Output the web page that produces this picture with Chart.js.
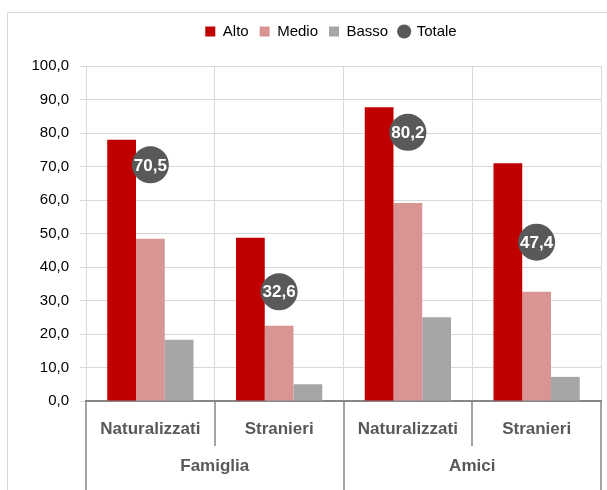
<!DOCTYPE html>
<html>
<head>
<meta charset="utf-8">
<script src="https://cdn.jsdelivr.net/npm/chart.js@4.4.0/dist/chart.umd.min.js"></script>
<style>
  html, body { margin: 0; padding: 0; background: #fff; overflow: hidden; }
  #wrap { position: relative; width: 607px; height: 490px; overflow: hidden; }
  #frame { position: absolute; left: 7px; top: 12px; width: 700px; height: 600px; border: 1px solid #d9d9d9; }
  canvas { position: absolute; left: 0; top: 0; }
</style>
</head>
<body>
<div id="wrap">
  <div id="frame"></div>
  <canvas id="chart" width="607" height="490"></canvas>
</div>
<script>
// data
const categories = ['Naturalizzati', 'Stranieri', 'Naturalizzati', 'Stranieri'];
const groups = ['Famiglia', 'Amici'];
const alto = [78.0, 48.7, 87.7, 71.0];
const medio = [48.4, 22.5, 59.1, 32.6];
const basso = [18.3, 5.0, 25.0, 7.2];
const totale = [70.5, 32.6, 80.2, 47.4];

const fmt = v => Number(v).toFixed(1).replace('.', ',');
Chart.defaults.font.family = '"Liberation Sans", Arial, sans-serif';

// second level of the x axis (Famiglia / Amici) with separators
const groupAxis = {
  id: 'groupAxis',
  afterDraw(chart) {
    const x = chart.scales.x;
    const ctx = chart.ctx;
    const n = categories.length;
    const per = n / groups.length;
    const edge = i => i === 0 ? x.left : i === n ? x.right : (x.getPixelForTick(i - 1) + x.getPixelForTick(i)) / 2;
    ctx.save();
    ctx.strokeStyle = '#868686';
    ctx.lineWidth = 1.5;
    for (let i = 0; i <= n; i++) {
      const px = Math.round(edge(i));
      const bottom = i % per === 0 ? chart.height : x.top + 45;
      ctx.beginPath();
      ctx.moveTo(px, x.top);
      ctx.lineTo(px, bottom);
      ctx.stroke();
    }
    ctx.font = 'bold 17px "Liberation Sans", Arial, sans-serif';
    ctx.fillStyle = '#595959';
    ctx.textAlign = 'center';
    ctx.textBaseline = 'middle';
    groups.forEach((g, k) => {
      const cx = (edge(k * per) + edge((k + 1) * per)) / 2;
      ctx.fillText(g, cx, x.top + 65);
    });
    ctx.restore();
  }
};

// value labels inside the Totale circles
const totaleLabels = {
  id: 'totaleLabels',
  afterDatasetsDraw(chart) {
    const ctx = chart.ctx;
    const meta = chart.getDatasetMeta(3);
    ctx.save();
    ctx.font = 'bold 17px "Liberation Sans", Arial, sans-serif';
    ctx.fillStyle = '#fff';
    ctx.textAlign = 'center';
    ctx.textBaseline = 'middle';
    meta.data.forEach((pt, i) => ctx.fillText(fmt(totale[i]), pt.x, pt.y + 1));
    ctx.restore();
  }
};

// extra room under the legend, and legend a bit right of the canvas centre
const legendTweak = {
  id: 'legendTweak',
  beforeLayout(chart) {
    const lg = chart.legend;
    if (lg && !lg._spaced) {
      const fit = lg.fit;
      lg.fit = function () { fit.call(this); this.height += 17; };
      lg._spaced = true;
    }
  },
  afterLayout(chart) { chart.legend.left += 61; }
};

new Chart(document.getElementById('chart'), {
  type: 'bar',
  data: {
    labels: categories,
    datasets: [
      { label: 'Alto', data: alto, backgroundColor: '#C00000', pointStyle: 'rect', order: 1 },
      { label: 'Medio', data: medio, backgroundColor: '#D99594', pointStyle: 'rect', order: 1 },
      { label: 'Basso', data: basso, backgroundColor: '#A6A6A6', pointStyle: 'rect', order: 1 },
      { label: 'Totale', data: totale, type: 'line', showLine: false, order: 0,
        backgroundColor: '#595959', borderColor: '#595959', pointStyle: 'circle',
        pointRadius: 18.5, pointHoverRadius: 18.5, pointBorderWidth: 0 }
    ]
  },
  options: {
    responsive: false,
    animation: false,
    categoryPercentage: 0.67,
    barPercentage: 1.0,
    layout: { autoPadding: false, padding: { top: 13, right: 6, left: 0, bottom: 0 } },
    plugins: {
      legend: {
        position: 'top',
        labels: {
          usePointStyle: true, boxWidth: 10, boxHeight: 10, padding: 11, color: '#000', font: { size: 15 },
          sort: (a, b) => a.datasetIndex - b.datasetIndex
        }
      },
      tooltip: { enabled: false }
    },
    scales: {
      x: {
        ticks: { font: { size: 17, weight: 'bold' }, color: '#595959', padding: 18, maxRotation: 0, autoSkip: false },
        grid: { offset: true, color: '#d9d9d9', drawTicks: false },
        border: { color: '#868686', width: 2 },
        afterFit(s) { s.height = 89; s.paddingLeft = 0; s.paddingRight = 0; }
      },
      y: {
        min: 0, max: 100,
        ticks: { stepSize: 10, callback: v => fmt(v), font: { size: 15 }, color: '#000', padding: 11 },
        grid: { color: '#d9d9d9', tickLength: 6 },
        border: { display: false },
        afterFit(s) { s.width = 86; }
      }
    }
  },
  plugins: [groupAxis, totaleLabels, legendTweak]
});
</script>
</body>
</html>
